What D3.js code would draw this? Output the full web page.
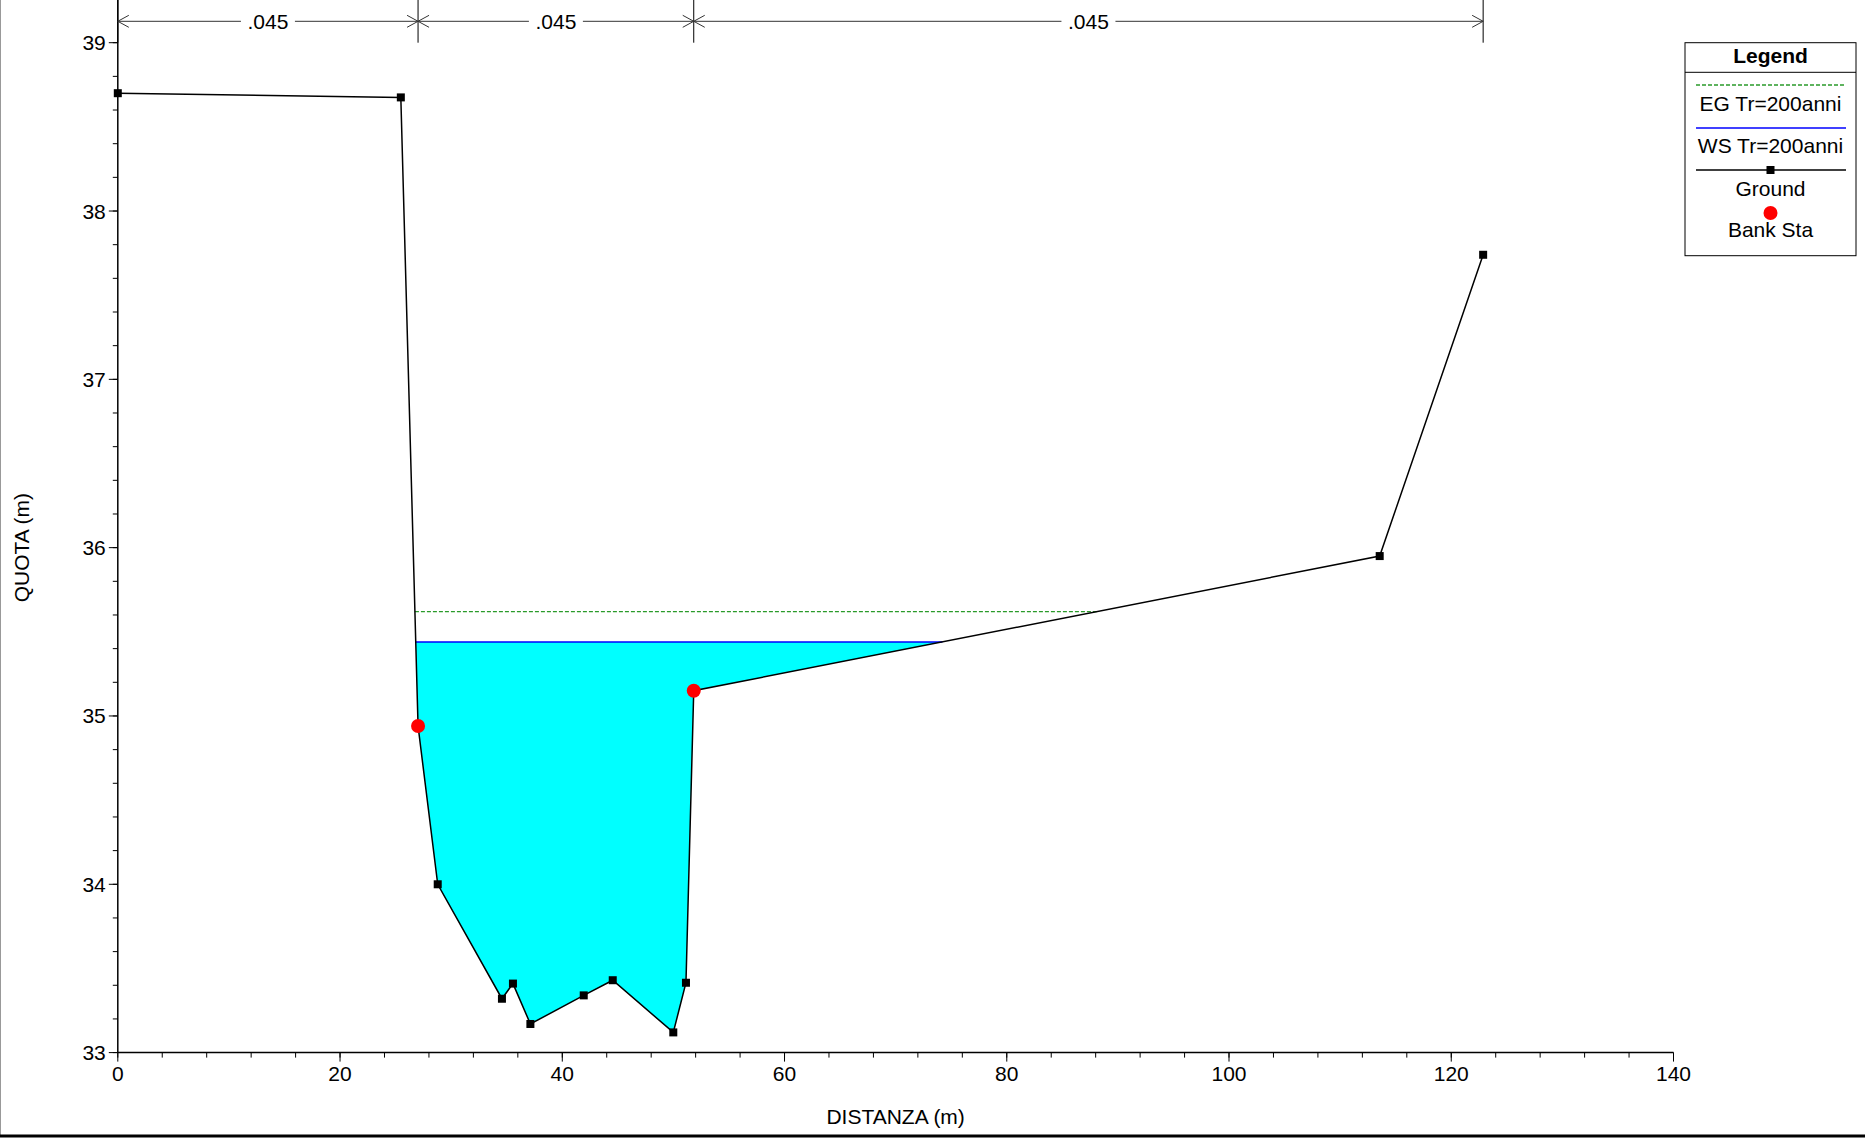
<!DOCTYPE html>
<html>
<head>
<meta charset="utf-8">
<script src="https://cdn.jsdelivr.net/npm/d3@7/dist/d3.min.js"></script>
<style>
  body { margin: 0; background: #fff; }
  text { font-family: Arial, "Liberation Sans", sans-serif; }
</style>
</head>
<body>
<div id="chart"></div>
<script>
// ground profile (station, elevation)
var groundSta  = [0, 25.47, 27.02, 28.79, 34.57, 35.56, 37.13, 41.93, 44.54, 49.99, 51.13, 51.83, 113.56, 122.87];
var groundElev = [38.70, 38.675, 34.94, 34.00, 33.32, 33.41, 33.17, 33.34, 33.43, 33.12, 33.415, 35.15, 35.95, 37.74];
var bankSta  = [27.02, 51.83];
var bankElev = [34.94, 35.15];
var wsElev = 35.44;   // WS Tr=200anni
var egElev = 35.62;   // EG Tr=200anni
var nBreaks = [0, 27.02, 51.83, 122.87];
var nValues = [".045", ".045", ".045"];
var xTicks = [0, 20, 40, 60, 80, 100, 120, 140];
var yTicks = [33, 34, 35, 36, 37, 38, 39];

var w = 1865, h = 1144;
var fs = 21;

var svg = d3.select("#chart").append("svg")
  .attr("width", w)
  .attr("height", h);

var x = d3.scaleLinear().domain([0, 140]).range([117.8, 1673.5]);
var y = d3.scaleLinear().domain([33, 39]).range([1052.6, 42.7]);

var ground = groundSta.map(function(s, i) { return [s, groundElev[i]]; });

// where a level crosses the ground, searching outward from the channel
function crossing(level, from, step) {
  for (var i = from; i >= 0 && i + step >= 0 && i + step < ground.length; i += step) {
    var a = ground[i], b = ground[i + step];
    if ((a[1] - level) * (b[1] - level) <= 0 && a[1] !== b[1]) {
      return a[0] + (level - a[1]) / (b[1] - a[1]) * (b[0] - a[0]);
    }
  }
  return ground[from][0];
}
var wsL = crossing(wsElev, 2, -1), wsR = crossing(wsElev, 11, 1);
var egL = crossing(egElev, 2, -1), egR = crossing(egElev, 11, 1);

// water fill
var poly = [[wsL, wsElev]];
ground.forEach(function(p) { if (p[0] > wsL && p[0] < wsR) poly.push(p); });
poly.push([wsR, wsElev]);
svg.append("path")
  .attr("d", d3.line().x(function(d) { return x(d[0]); }).y(function(d) { return y(d[1]); })(poly) + "Z")
  .attr("fill", "#00ffff");

// EG and WS lines
svg.append("line")
  .attr("x1", x(egL)).attr("x2", x(egR)).attr("y1", y(egElev)).attr("y2", y(egElev))
  .attr("stroke", "#2a9a2a").attr("stroke-width", 1.3).attr("stroke-dasharray", "4,2");
svg.append("line")
  .attr("x1", x(wsL)).attr("x2", x(wsR)).attr("y1", y(wsElev)).attr("y2", y(wsElev))
  .attr("stroke", "#0000ff").attr("stroke-width", 1.5);

// ground line
svg.append("path")
  .attr("d", d3.line().x(function(d) { return x(d[0]); }).y(function(d) { return y(d[1]); })(ground))
  .attr("fill", "none").attr("stroke", "#000").attr("stroke-width", 1.5);

svg.selectAll("rect.pt")
  .data(ground.filter(function(p) { return bankSta.indexOf(p[0]) < 0; }))
  .enter()
  .append("rect")
  .attr("class", "pt")
  .attr("x", function(d) { return x(d[0]) - 4; })
  .attr("y", function(d) { return y(d[1]) - 4; })
  .attr("width", 8).attr("height", 8)
  .attr("fill", "#000");

svg.selectAll("circle.bank")
  .data(bankSta)
  .enter()
  .append("circle")
  .attr("class", "bank")
  .attr("cx", function(d) { return x(d); })
  .attr("cy", function(d, i) { return y(bankElev[i]); })
  .attr("r", 7)
  .attr("fill", "#ff0000");

// axes
var xAxis = svg.append("g").attr("transform", "translate(0," + y(33) + ")");
xAxis.append("line").attr("x1", x(0)).attr("x2", x(140)).attr("stroke", "#000").attr("stroke-width", 1.5);
xAxis.selectAll("line.minor")
  .data(d3.range(0, 141, 4))
  .enter().append("line")
  .attr("x1", function(d) { return x(d); }).attr("x2", function(d) { return x(d); })
  .attr("y1", 0).attr("y2", 5).attr("stroke", "#000");
xAxis.selectAll("line.major")
  .data(xTicks)
  .enter().append("line")
  .attr("x1", function(d) { return x(d); }).attr("x2", function(d) { return x(d); })
  .attr("y1", 0).attr("y2", 9).attr("stroke", "#000");
xAxis.selectAll("text")
  .data(xTicks)
  .enter().append("text")
  .attr("x", function(d) { return x(d); })
  .attr("y", 28)
  .attr("text-anchor", "middle")
  .attr("font-size", fs)
  .text(function(d) { return d; });

var yAxis = svg.append("g").attr("transform", "translate(" + x(0) + ",0)");
yAxis.append("line").attr("y1", 0).attr("y2", y(33)).attr("stroke", "#000").attr("stroke-width", 1.5);
yAxis.selectAll("line.minor")
  .data(d3.range(0, 31).map(function(i) { return 33 + i * 0.2; }))
  .enter().append("line")
  .attr("y1", function(d) { return y(d); }).attr("y2", function(d) { return y(d); })
  .attr("x1", 0).attr("x2", -5).attr("stroke", "#000");
yAxis.selectAll("line.major")
  .data(yTicks)
  .enter().append("line")
  .attr("y1", function(d) { return y(d); }).attr("y2", function(d) { return y(d); })
  .attr("x1", 0).attr("x2", -9).attr("stroke", "#000");
yAxis.selectAll("text")
  .data(yTicks)
  .enter().append("text")
  .attr("x", -12)
  .attr("y", function(d) { return y(d) + 7.5; })
  .attr("text-anchor", "end")
  .attr("font-size", fs)
  .text(function(d) { return d; });

svg.append("text")
  .attr("x", (x(0) + x(140)) / 2).attr("y", 1124)
  .attr("text-anchor", "middle").attr("font-size", fs)
  .text("DISTANZA (m)");
svg.append("text")
  .attr("transform", "translate(29," + (y(36) + 0) + ") rotate(-90)")
  .attr("text-anchor", "middle").attr("font-size", fs)
  .text("QUOTA (m)");

// Manning's n dimension lines
var dimY = 21.3;
var dim = svg.append("g").attr("stroke", "#333").attr("fill", "none");
nBreaks.forEach(function(b) {
  dim.append("line").attr("x1", x(b)).attr("x2", x(b)).attr("y1", 0).attr("y2", y(39)).attr("stroke", "#000");
});
nValues.forEach(function(v, i) {
  var x1 = x(nBreaks[i]), x2 = x(nBreaks[i + 1]);
  dim.append("line").attr("x1", x1).attr("x2", x2).attr("y1", dimY).attr("y2", dimY);
  dim.append("path").attr("d", "M" + (x1 + 11) + "," + (dimY - 6) + "L" + x1 + "," + dimY + "L" + (x1 + 11) + "," + (dimY + 6));
  dim.append("path").attr("d", "M" + (x2 - 11) + "," + (dimY - 6) + "L" + x2 + "," + dimY + "L" + (x2 - 11) + "," + (dimY + 6));
  var cx = (x1 + x2) / 2;
  svg.append("rect").attr("x", cx - 27).attr("y", dimY - 10).attr("width", 54).attr("height", 20).attr("fill", "#fff");
  svg.append("text").attr("x", cx).attr("y", dimY + 7.5)
    .attr("text-anchor", "middle").attr("font-size", fs).text(v);
});

// legend
var lg = svg.append("g");
lg.append("rect").attr("x", 1685).attr("y", 42.7).attr("width", 171).attr("height", 213)
  .attr("fill", "#fff").attr("stroke", "#000").attr("stroke-width", 1);
lg.append("line").attr("x1", 1685).attr("x2", 1856).attr("y1", 72.3).attr("y2", 72.3).attr("stroke", "#000");
lg.append("text").attr("x", 1770.5).attr("y", 63).attr("text-anchor", "middle")
  .attr("font-size", fs).attr("font-weight", "bold").text("Legend");
lg.append("line").attr("x1", 1696).attr("x2", 1846).attr("y1", 85).attr("y2", 85)
  .attr("stroke", "#2a9a2a").attr("stroke-width", 1.3).attr("stroke-dasharray", "4,2");
lg.append("text").attr("x", 1770.5).attr("y", 111).attr("text-anchor", "middle").attr("font-size", fs).text("EG Tr=200anni");
lg.append("line").attr("x1", 1696).attr("x2", 1846).attr("y1", 128).attr("y2", 128)
  .attr("stroke", "#0000ff").attr("stroke-width", 1.5);
lg.append("text").attr("x", 1770.5).attr("y", 153).attr("text-anchor", "middle").attr("font-size", fs).text("WS Tr=200anni");
lg.append("line").attr("x1", 1696).attr("x2", 1846).attr("y1", 170).attr("y2", 170)
  .attr("stroke", "#000").attr("stroke-width", 1.5);
lg.append("rect").attr("x", 1766.5).attr("y", 166).attr("width", 8).attr("height", 8).attr("fill", "#000");
lg.append("text").attr("x", 1770.5).attr("y", 196).attr("text-anchor", "middle").attr("font-size", fs).text("Ground");
lg.append("circle").attr("cx", 1770.5).attr("cy", 213).attr("r", 7).attr("fill", "#ff0000");
lg.append("text").attr("x", 1770.5).attr("y", 237).attr("text-anchor", "middle").attr("font-size", fs).text("Bank Sta");

// frame
svg.append("line").attr("x1", 0.5).attr("x2", 0.5).attr("y1", 0).attr("y2", 1136).attr("stroke", "#999");
svg.append("line").attr("x1", 0).attr("x2", w).attr("y1", 1136).attr("y2", 1136).attr("stroke", "#000").attr("stroke-width", 3);
</script>
</body>
</html>
